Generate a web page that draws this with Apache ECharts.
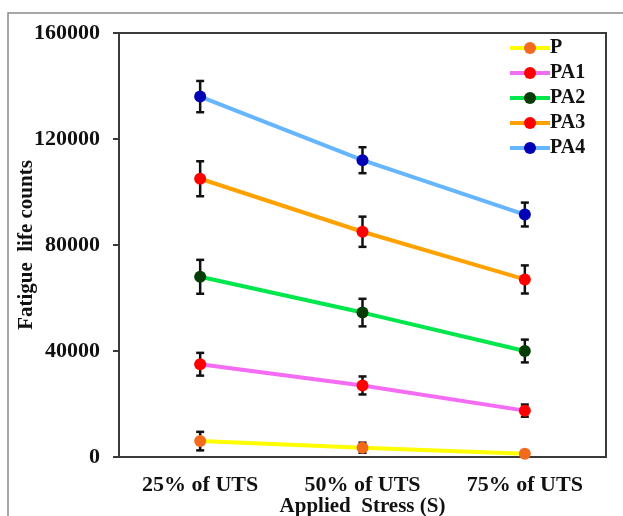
<!DOCTYPE html>
<html>
<head>
<meta charset="utf-8">
<style>html,body{margin:0;padding:0;background:#fff;}#c{width:623px;height:516px;}</style>
<script src="https://cdn.jsdelivr.net/npm/echarts@6/dist/echarts.min.js"></script>
</head>
<body>
<div id="c"></div>
<script>
const categories = ['25% of UTS', '50% of UTS', '75% of UTS'];
const yTicks = [0, 40000, 80000, 120000, 160000];
const seriesNames = ['P', 'PA1', 'PA2', 'PA3', 'PA4'];
const P = [6000, 3500, 1200];
const P_err = [3500, 1900, 500];
const PA1 = [35000, 27000, 17500];
const PA1_err = [4300, 3400, 2300];
const PA2 = [68000, 54500, 40000];
const PA2_err = [6400, 5200, 4300];
const PA3 = [105000, 85000, 67000];
const PA3_err = [6600, 5700, 5300];
const PA4 = [136000, 112000, 91500];
const PA4_err = [5900, 4900, 4500];

const values = [P, PA1, PA2, PA3, PA4];
const errors = [P_err, PA1_err, PA2_err, PA3_err, PA4_err];
const lineColors = ['#ffff00', '#f36cf3', '#00e64d', '#ffa200', '#66b5ff'];
const markerColors = ['#f26b1d', '#ff0000', '#063d06', '#ff0000', '#0000b4'];

const font = '"Liberation Serif", "Times New Roman", serif';

const series = [];
values.forEach((vals, i) => {
  series.push({
    name: seriesNames[i],
    type: 'line',
    data: vals,
    symbol: 'circle',
    symbolSize: 12,
    z: 3,
    lineStyle: { color: lineColors[i], width: 4 },
    itemStyle: { color: markerColors[i] },
    emphasis: { disabled: true }
  });
});
values.forEach((vals, i) => {
  series.push({
    type: 'custom',
    z: 2,
    silent: true,
    data: vals.map((v, j) => [j, v, errors[i][j]]),
    renderItem: function (params, api) {
      const x = api.value(0), v = api.value(1), e = api.value(2);
      const top = api.coord([x, v + e]);
      const bot = api.coord([x, v - e]);
      const w = 4;
      const st = { stroke: '#111', lineWidth: 2.5 };
      return {
        type: 'group',
        children: [
          { type: 'line', shape: { x1: top[0], y1: top[1], x2: bot[0], y2: bot[1] }, style: st },
          { type: 'line', shape: { x1: top[0] - w, y1: top[1], x2: top[0] + w, y2: top[1] }, style: st },
          { type: 'line', shape: { x1: bot[0] - w, y1: bot[1], x2: bot[0] + w, y2: bot[1] }, style: st }
        ]
      };
    }
  });
});

const chart = echarts.init(document.getElementById('c'));
chart.setOption({
  animation: false,
  backgroundColor: '#fff',
  graphic: [{
    type: 'rect',
    shape: { x: 8, y: 13, width: 700, height: 600 },
    style: { fill: 'none', stroke: '#8a8a8a', lineWidth: 1.5 },
    silent: true, z: 0
  }],
  grid: { left: 119, top: 33, right: 17, bottom: 59, outerBoundsMode: 'none', containLabel: false, show: true, borderColor: '#3a3a3a', borderWidth: 2, backgroundColor: 'transparent' },
  legend: {
    data: seriesNames,
    orient: 'vertical',
    left: 508,
    top: 38,
    padding: 0,
    itemWidth: 40,
    itemHeight: 15,
    itemGap: 5,
    lineStyle: { width: 4 },
    textStyle: { fontFamily: font, fontWeight: 'bold', fontSize: 20, color: '#111', lineHeight: 18, padding: [0, 0, 0, -5] },
    selectedMode: false
  },
  xAxis: {
    type: 'category',
    data: categories,
    boundaryGap: true,
    name: 'Applied  Stress (S)',
    nameLocation: 'middle',
    nameGap: 39,
    nameMoveOverlap: false,
    nameTextStyle: { fontFamily: font, fontWeight: 'bold', fontSize: 21, color: '#111' },
    axisLine: { lineStyle: { color: '#3a3a3a', width: 2 } },
    axisTick: { alignWithLabel: true, length: 6, lineStyle: { color: '#3a3a3a', width: 2 } },
    axisLabel: { fontFamily: font, fontWeight: 'bold', fontSize: 22, color: '#111', margin: 17 },
    splitLine: { show: false }
  },
  yAxis: {
    type: 'value',
    min: yTicks[0],
    max: yTicks[yTicks.length - 1],
    interval: yTicks[1] - yTicks[0],
    name: 'Fatigue  life counts',
    nameLocation: 'middle',
    nameGap: 82,
    nameMoveOverlap: false,
    nameTextStyle: { fontFamily: font, fontWeight: 'bold', fontSize: 21, color: '#111' },
    axisLine: { show: true, lineStyle: { color: '#3a3a3a', width: 2 } },
    axisTick: { show: true, length: 6, lineStyle: { color: '#3a3a3a', width: 2 } },
    axisLabel: { fontFamily: font, fontWeight: 'bold', fontSize: 22, color: '#111', margin: 19, formatter: v => String(v) },
    splitLine: { show: false }
  },
  series: series
});
</script>
</body>
</html>
